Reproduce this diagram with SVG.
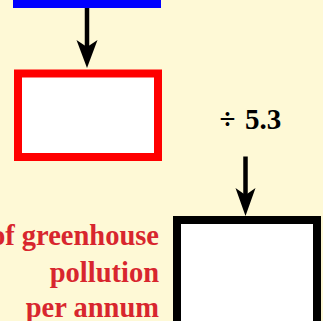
<svg xmlns="http://www.w3.org/2000/svg" width="323" height="321" viewBox="0 0 323 321">
<style>
.box{fill:#ffffff;stroke-width:8}
.shaft{stroke:#000;stroke-width:4.5;fill:none}
.head{fill:#000}
.lbl{font-family:"Liberation Serif","Times New Roman",serif;font-weight:bold}
.red{fill:#d8262e;font-size:28.5px;text-anchor:end}
</style>
<rect width="323" height="321" fill="#fef9d6"/>
<g id="connectors">
<line class="shaft" x1="87" y1="6" x2="87" y2="50"/>
<path class="head" d="M76.5,40 L87,47 L97.5,40 L87,68 Z"/>
<line class="shaft" x1="245.5" y1="156.5" x2="245.5" y2="198"/>
<path class="head" d="M235.5,188 L245.5,195 L255.5,188 L245.5,216 Z"/>
</g>
<g id="node-blue">
<rect class="box" x="17" y="-100" width="140" height="104" stroke="#0000ff"/>
</g>
<g id="node-red">
<rect class="box" x="18" y="73.5" width="140" height="83.5" stroke="#ff0000"/>
</g>
<g id="node-black">
<rect class="box" x="177" y="220" width="140" height="110" stroke="#000000"/>
</g>
<g id="label-divide">
<text class="lbl" x="219.5" y="129" font-size="29" fill="#000"><tspan>÷</tspan><tspan x="245">5.3</tspan></text>
</g>
<g id="label-pollution">
<text class="lbl red" x="159" y="245">of greenhouse</text>
<text class="lbl red" x="159" y="281.5">pollution</text>
<text class="lbl red" x="159" y="317">per annum</text>
</g>
</svg>
